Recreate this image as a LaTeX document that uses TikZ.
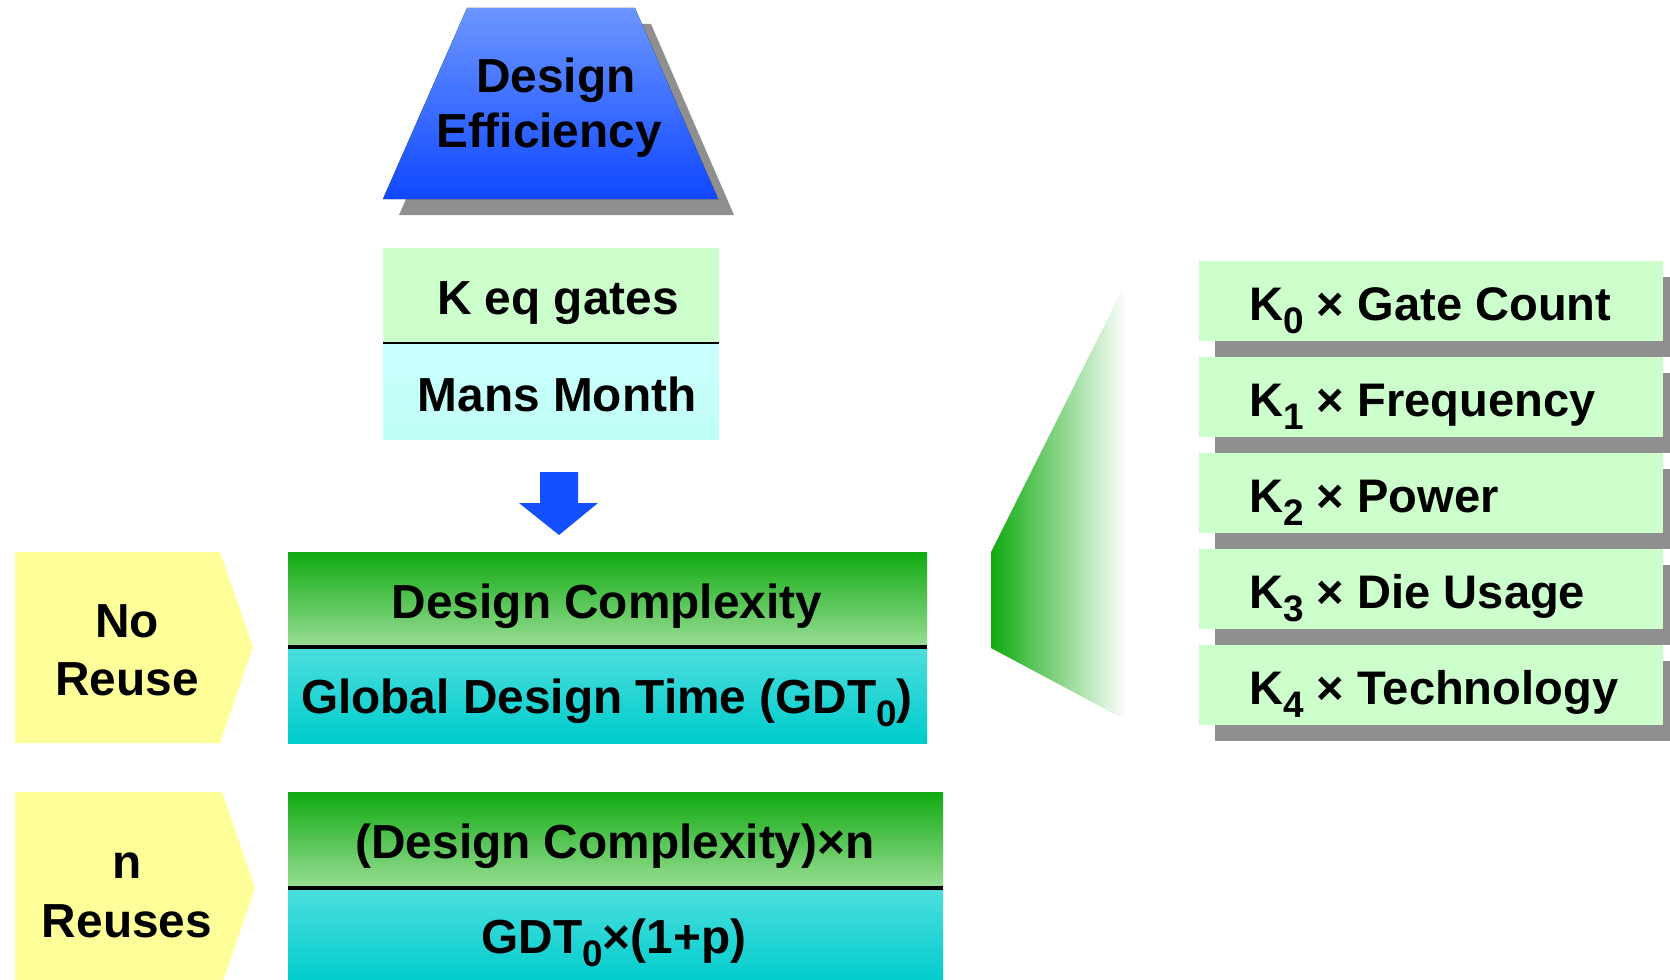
\documentclass[tikz,border=0pt]{standalone}
\usepackage{fontspec}
\setmainfont{Liberation Sans}
\definecolor{yel}{HTML}{FFFF99}
\definecolor{lgreen}{HTML}{CCFFCC}
\definecolor{lcyanA}{HTML}{CCFFFF}
\definecolor{lcyanB}{HTML}{BFFFF5}
\definecolor{dgreen}{HTML}{10AA10}
\definecolor{mgreen}{HTML}{9ADE96}
\definecolor{cyanA}{HTML}{4DDEDE}
\definecolor{cyanB}{HTML}{00CCCC}
\definecolor{shad}{HTML}{8F8F8F}
\definecolor{blueA}{HTML}{6B96FF}
\definecolor{blueB}{HTML}{1048FF}
\definecolor{arrowblue}{HTML}{1450FF}
\pgfdeclarehorizontalshading{wedgefade}{100bp}{color(0bp)=(dgreen); color(25bp)=(dgreen); color(72bp)=(white); color(100bp)=(white)}
\newcommand{\sbs}[1]{\raisebox{-7.4pt}{\fontsize{21}{21}\selectfont #1}}
\begin{document}
\begin{tikzpicture}[x=0.02cm, y=-0.02cm,
  txt/.style={font=\fontsize{27.2}{32}\selectfont\bfseries, inner sep=0pt, text=black, anchor=base},
  ltxt/.style={font=\fontsize{26.8}{32}\selectfont\bfseries, inner sep=0pt, text=black, anchor=base west},
  yelshape/.style={fill=yel},
  hdr/.style={top color=dgreen, bottom color=mgreen},
  body/.style={top color=cyanA, bottom color=cyanB},
  divider/.style={line width=2.8pt, black},
  kbox/.style={fill=lgreen},
  kshadow/.style={fill=shad}]
\useasboundingbox (0,0) rectangle (1670,980);
\clip (0,0) rectangle (1670,980);

% Design Efficiency trapezoid
\fill[shad] (483,24) -- (651,24) -- (734,215) -- (399,215) -- cycle;
\fill[top color=blueA, bottom color=blueB] (467,8) -- (635,8) -- (718,199) -- (383,199) -- cycle;
\node[txt] (eff1) at (556,92) {Design};
\node[txt] (eff2) at (549,148) {Efficiency};

% K eq gates / Mans Month
\fill[lgreen] (383,248) rectangle (719,343);
\fill[top color=lcyanA, bottom color=lcyanB] (383,343) rectangle (719,439);
\draw[line width=1.5pt] (383,343) -- (719,343);
\node[txt] (keq) at (558,314) {K eq gates};
\node[txt] (mans) at (557,411) {Mans Month};

% block arrow
\fill[arrowblue] (540,472) -- (578,472) -- (578,503) -- (598,503) -- (559,535) -- (519,503) -- (540,503) -- cycle;

% Row 1
\fill[yelshape] (15,552) -- (220,552) -- (253,647) -- (220,743) -- (15,743) -- cycle;
\fill[hdr] (288,552) rectangle (927,647);
\fill[body] (288,647) rectangle (927,743);
\draw[divider] (288,647) -- (927,647);
\node[txt] (no) at (127,637) {No};
\node[txt] (reuse) at (127,695) {Reuse};
\node[txt] (dc) at (607,618) {Design Complexity};
\node[txt] (gdt) at (607,713) {Global Design Time (GDT\sbs{0})};

% Row 2
\fill[yelshape] (15,792) -- (222,792) -- (255,888) -- (222,984) -- (15,984) -- cycle;
\fill[hdr] (288,792) rectangle (943,888);
\fill[body] (288,888) rectangle (943,984);
\draw[divider] (288,888) -- (943,888);
\node[txt] (n) at (127,878) {n};
\node[txt] (reuses) at (127,937) {Reuses};
\node[txt] (dcn) at (615,858) {(Design Complexity)×n};
\node[txt] (gdtp) at (614,953) {GDT\sbs{0}×(1+p)};

% fading wedge
\shade[shading=wedgefade] (991,552) -- (1135,264) -- (1135,725) -- (991,648) -- cycle;

% factor boxes
\foreach \k in {0,...,4} {
  \pgfmathsetmacro{\t}{261+96*\k}
  \fill[kshadow] (1215,\t+16) rectangle (1679,\t+96);
  \fill[kbox] (1199,\t) rectangle (1663,\t+80);
}
\node[ltxt] (k0) at (1249,320) {K\sbs{0} × Gate Count};
\node[ltxt] (k1) at (1249,416) {K\sbs{1} × Frequency};
\node[ltxt] (k2) at (1249,512) {K\sbs{2} × Power};
\node[ltxt] (k3) at (1249,608) {K\sbs{3} × Die Usage};
\node[ltxt] (k4) at (1249,704) {K\sbs{4} × Technology};
\end{tikzpicture}
\end{document}
